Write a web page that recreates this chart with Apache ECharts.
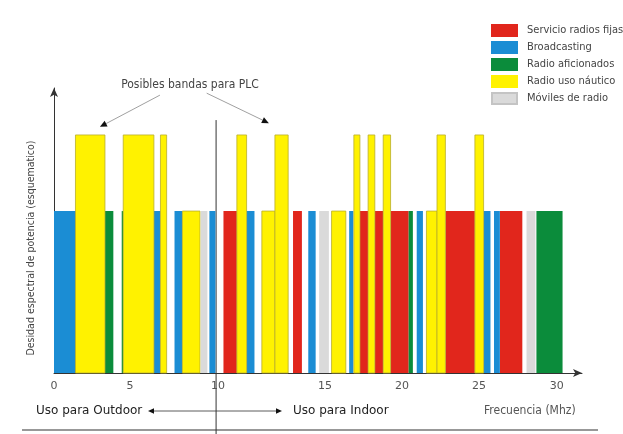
<!DOCTYPE html>
<html><head><meta charset="utf-8">
<script src="https://cdn.jsdelivr.net/npm/echarts@6/dist/echarts.min.js"></script>
<style>html,body{margin:0;padding:0;background:#fff}#c{width:623px;height:434px}</style>
</head><body><div id="c"></div>
<script>
// Services (legend order)
const categories = ['Servicio radios fijas', 'Broadcasting', 'Radio aficionados', 'Radio uso náutico', 'Móviles de radio'];
// Bands: [start, end, relative power level] in schematic frequency-axis units
const fijas = [[10.11,10.91,1],[14.26,14.79,1],[18.25,18.74,1],[19.14,19.64,1],[20.08,21.16,1],[23.35,25.11,1],[26.60,27.94,1]];
const broadcasting = [[0,1.31,1],[5.96,6.35,1],[7.19,7.66,1],[9.27,9.63,1],[11.49,11.96,1],[15.17,15.61,1],[17.61,17.86,1],[21.64,22.01,1],[25.63,26.04,1],[26.25,26.60,1]];
const aficionados = [[3.04,3.54,1],[4.04,4.14,1],[21.16,21.41,1],[28.78,30.34,1]];
const nautico = [[1.28,3.04,1.47],[4.13,5.96,1.47],[6.35,6.72,1.47],[7.66,8.71,1],[10.91,11.49,1.47],[12.40,13.18,1],[13.18,13.97,1.47],[16.56,17.41,1],[17.89,18.25,1.47],[18.74,19.14,1.47],[19.64,20.08,1.47],[22.22,22.85,1],[22.85,23.35,1.47],[25.11,25.63,1.47]];
const moviles = [[8.77,9.15,1],[15.82,16.40,1],[28.19,28.72,1]];
// Tick labels of the (schematic) frequency axis and where they sit on it
const tickLabels = ['0','5','10','15','20','25','30'];
const tickPositions = [0, 4.53, 9.79, 16.17, 20.76, 25.36, 30];
// Indoor / outdoor boundary on the axis
const boundary = 9.67;

const seriesData = [fijas, broadcasting, aficionados, nautico, moviles];
const colors = ['#e1261c', '#1b8dd4', '#0b8c3b', '#fff200', '#dadada'];
const strokes = [null, null, null, '#b9ad2a', null];

const NARROW = "'Liberation Sans Narrow','DejaVu Sans Condensed','Roboto Condensed',sans-serif";
const REG = "'DejaVu Sans','Verdana',sans-serif";

function makeRender(i) {
  return function (params, api) {
    const p0 = api.coord([api.value(0), api.value(2)]);
    const p1 = api.coord([api.value(1), 0]);
    return {
      type: 'rect',
      shape: { x: p0[0], y: p0[1], width: p1[0] - p0[0], height: p1[1] - p0[1] },
      style: strokes[i] ? { fill: colors[i], stroke: strokes[i], lineWidth: 0.8 } : { fill: colors[i] }
    };
  };
}

const chart = echarts.init(document.getElementById('c'), null, { renderer: 'canvas' });
const series = categories.map((name, i) => ({
  type: 'custom',
  name: name,
  renderItem: makeRender(i),
  itemStyle: { color: colors[i], borderColor: i === 4 ? '#c4c4c4' : colors[i], borderWidth: 0.5 },
  encode: { x: [0, 1], y: 2 },
  data: seriesData[i],
  silent: true
}));

chart.setOption({
  animation: false,
  backgroundColor: '#ffffff',
  grid: { left: 54, right: 41, top: 88, bottom: 61 },
  legend: {
    data: categories, orient: 'vertical', left: 491, top: 24, padding: 0,
    itemWidth: 25, itemHeight: 11, itemGap: 4, icon: 'rect', selectedMode: false,
    textStyle: { fontSize: 11, color: '#444', fontFamily: NARROW, lineHeight: 11, padding: [0, 0, 0, 5] }
  },
  xAxis: {
    type: 'value', min: 0, max: 31.5,
    splitLine: { show: false }, axisTick: { show: false },
    axisLine: { show: true, lineStyle: { color: '#333', width: 1 }, symbol: ['none', 'arrow'], symbolSize: [6, 9] },
    axisLabel: {
      customValues: tickPositions, color: '#555', fontSize: 11, fontFamily: REG, margin: 8,
      formatter: function (v) {
        let k = 0, d = 1e9;
        tickPositions.forEach((p, i) => { if (Math.abs(p - v) < d) { d = Math.abs(p - v); k = i; } });
        return tickLabels[k];
      }
    }
  },
  yAxis: {
    type: 'value', min: 0, max: 1.76,
    splitLine: { show: false }, axisTick: { show: false }, axisLabel: { show: false },
    axisLine: { show: true, lineStyle: { color: '#333', width: 1 }, symbol: ['none', 'arrow'], symbolSize: [6, 9] }
  },
  series: series
});

function arrow(x1, y1, x2, y2, s, color) {
  const a = Math.atan2(y2 - y1, x2 - x1);
  const bx = x2 - Math.cos(a) * s, by = y2 - Math.sin(a) * s;
  const px = -Math.sin(a) * s * 0.45, py = Math.cos(a) * s * 0.45;
  return [
    { type: 'line', shape: { x1: x1, y1: y1, x2: bx, y2: by }, style: { stroke: color, lineWidth: 0.8 }, silent: true },
    { type: 'polygon', shape: { points: [[x2, y2], [bx + px, by + py], [bx - px, by - py]] }, style: { fill: '#111' }, silent: true }
  ];
}

const P = (x, y) => chart.convertToPixel({ gridIndex: 0 }, [x, y]);
const dTop = P(boundary, 1.562);
const a1s = P(6.32, 1.716), a1e = P(2.74, 1.52);
const a2s = P(9.11, 1.728), a2e = P(12.82, 1.543);
const graphics = [
  { type: 'line', shape: { x1: dTop[0], y1: dTop[1], x2: dTop[0], y2: 434 }, style: { stroke: '#333', lineWidth: 1 }, silent: true },
  { type: 'line', shape: { x1: 22, y1: 430, x2: 598, y2: 430 }, style: { stroke: '#333', lineWidth: 1.2 }, silent: true },
  { type: 'text', x: 190, y: 85, style: { text: 'Posibles bandas para PLC', fill: '#444', font: '12px ' + NARROW, align: 'center', verticalAlign: 'middle' }, silent: true },
  { type: 'text', x: 31, y: 248, rotation: Math.PI / 2, style: { text: 'Desidad espectral de potencia (esquematico)', fill: '#444', font: '10.5px ' + NARROW, align: 'center', verticalAlign: 'middle' }, silent: true },
  { type: 'text', x: 36, y: 411, style: { text: 'Uso para Outdoor', fill: '#222', font: '12px ' + REG, align: 'left', verticalAlign: 'middle' }, silent: true },
  { type: 'text', x: 293, y: 411, style: { text: 'Uso para Indoor', fill: '#222', font: '12px ' + REG, align: 'left', verticalAlign: 'middle' }, silent: true },
  { type: 'text', x: 484, y: 411, style: { text: 'Frecuencia (Mhz)', fill: '#555', font: '12px ' + NARROW, align: 'left', verticalAlign: 'middle' }, silent: true }
]
  .concat(arrow(a1s[0], a1s[1], a1e[0], a1e[1], 7, '#888'))
  .concat(arrow(a2s[0], a2s[1], a2e[0], a2e[1], 7, '#888'))
  .concat(arrow(216, 411, 148, 411, 6, '#333'))
  .concat(arrow(216, 411, 282, 411, 6, '#333'));

chart.setOption({ graphic: graphics });
</script>
</body></html>
